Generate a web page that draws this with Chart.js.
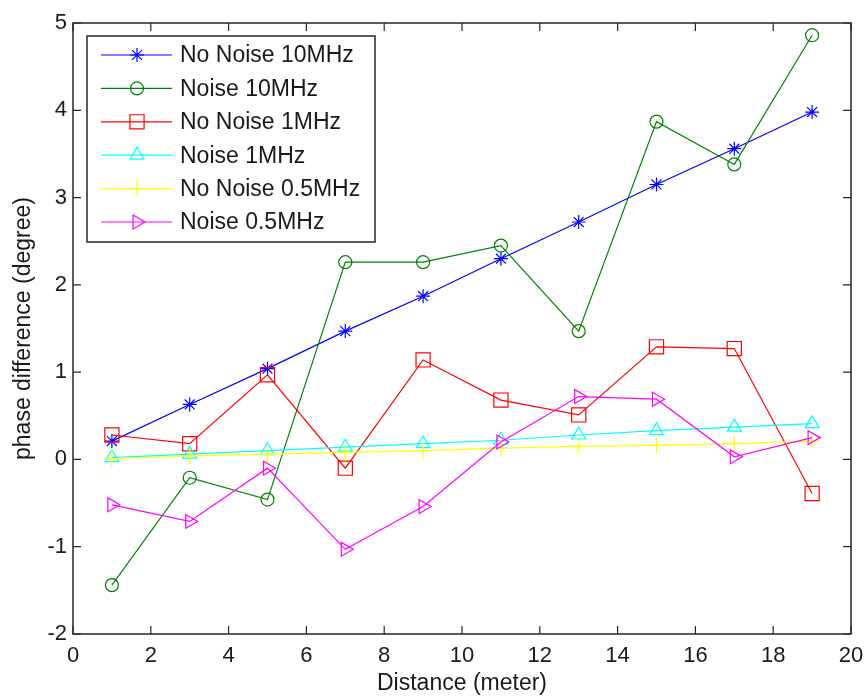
<!DOCTYPE html>
<html>
<head>
<meta charset="utf-8">
<script src="https://cdn.jsdelivr.net/npm/chart.js@4"></script>
<style>
  html, body { margin: 0; padding: 0; background: #fff; }
  #wrap { width: 864px; height: 697px; }
</style>
</head>
<body>
<div id="wrap"><canvas id="phaseChart"></canvas></div>
<script>
// Distance (meter)
const distances = [1, 3, 5, 7, 9, 11, 13, 15, 17, 19];
const xTicks = [0, 2, 4, 6, 8, 10, 12, 14, 16, 18, 20];
const yTicks = [-2, -1, 0, 1, 2, 3, 4, 5];

// phase difference (degree)
const noNoise10 = [0.21, 0.63, 1.04, 1.47, 1.87, 2.30, 2.72, 3.15, 3.56, 3.98];
const noise10 = [-1.44, -0.21, -0.46, 2.26, 2.26, 2.45, 1.47, 3.87, 3.38, 4.86];
const noNoise1 = [0.28, 0.18, 0.97, -0.10, 1.14, 0.68, 0.51, 1.29, 1.27, -0.39];
const noise1 = [0.02, 0.06, 0.10, 0.14, 0.18, 0.22, 0.28, 0.33, 0.37, 0.41];
const noNoise05 = [0.01, 0.04, 0.06, 0.08, 0.10, 0.13, 0.15, 0.16, 0.18, 0.21];
const noise05 = [-0.52, -0.71, -0.10, -1.03, -0.54, 0.20, 0.72, 0.69, 0.03, 0.25];

const seriesLabels = ['No Noise 10MHz', 'Noise 10MHz', 'No Noise 1MHz', 'Noise 1MHz', 'No Noise 0.5MHz', 'Noise 0.5MHz'];
const seriesValues = [noNoise10, noise10, noNoise1, noise1, noNoise05, noise05];
const seriesColors = ['#0000ff', '#008000', '#ff0000', '#00ffff', '#ffff00', '#ff00ff'];
const seriesMarkers = ['star', 'circle', 'rect', 'triangle', 'cross', 'triangle'];
const markerRadius = [7, 6.5, 10, 8, 8, 8];
const markerRotation = [0, 0, 0, 0, 0, 90];

const FONT = "'Liberation Sans', Arial, sans-serif";
const INK = '#1a1a1a';

const datasets = seriesLabels.map((label, i) => ({
    label: label,
    data: distances.map((d, j) => ({ x: d, y: seriesValues[i][j] })),
    borderColor: seriesColors[i],
    backgroundColor: 'transparent',
    borderWidth: 1.2,
    pointStyle: seriesMarkers[i],
    pointRadius: markerRadius[i],
    pointRotation: markerRotation[i],
    pointBorderColor: seriesColors[i],
    pointBackgroundColor: 'transparent',
    pointBorderWidth: 1.2,
    tension: 0,
    order: -i
}));

// frame box with inward tick marks on all four sides
const frameBox = {
    id: 'frameBox',
    afterDatasetsDraw(chart) {
        const { ctx, chartArea: a, scales } = chart;
        const len = 8;
        ctx.save();
        ctx.strokeStyle = '#262626';
        ctx.lineWidth = 1.5;
        ctx.strokeRect(a.left, a.top, a.right - a.left, a.bottom - a.top);
        ctx.lineWidth = 1.2;
        ctx.beginPath();
        xTicks.forEach(v => {
            const px = scales.x.getPixelForValue(v);
            ctx.moveTo(px, a.bottom); ctx.lineTo(px, a.bottom - len);
            ctx.moveTo(px, a.top); ctx.lineTo(px, a.top + len);
        });
        yTicks.forEach(v => {
            const py = scales.y.getPixelForValue(v);
            ctx.moveTo(a.left, py); ctx.lineTo(a.left + len, py);
            ctx.moveTo(a.right, py); ctx.lineTo(a.right - len, py);
        });
        ctx.stroke();
        ctx.restore();
    }
};

// MATLAB-like legend box in the upper left corner
const boxLegend = {
    id: 'boxLegend',
    afterDraw(chart) {
        const { ctx, chartArea: a } = chart;
        const left = a.left + 14, top = a.top + 13;
        const w = 288, rowH = 33.4, h = 206;
        ctx.save();
        ctx.fillStyle = '#fff';
        ctx.fillRect(left, top, w, h);
        ctx.strokeStyle = '#262626';
        ctx.lineWidth = 1.5;
        ctx.strokeRect(left, top, w, h);
        chart.data.datasets.forEach((ds, i) => {
            const y = top + 19 + i * rowH;
            ctx.strokeStyle = ds.borderColor;
            ctx.lineWidth = 1.2;
            ctx.beginPath();
            ctx.moveTo(left + 14, y);
            ctx.lineTo(left + 85, y);
            ctx.stroke();
            ctx.fillStyle = 'transparent';
            Chart.helpers.drawPoint(ctx, {
                pointStyle: ds.pointStyle,
                radius: ds.pointRadius,
                rotation: ds.pointRotation,
                borderWidth: 1.2
            }, left + 50, y);
            ctx.fillStyle = INK;
            ctx.font = '23px ' + FONT;
            ctx.textBaseline = 'middle';
            ctx.textAlign = 'left';
            ctx.fillText(ds.label, left + 93, y + 1);
        });
        ctx.restore();
    }
};

new Chart(document.getElementById('phaseChart'), {
    type: 'line',
    data: { datasets: datasets },
    options: {
        responsive: true,
        maintainAspectRatio: false,
        animation: false,
        layout: { padding: { top: 23, right: 13, left: 0, bottom: 0 } },
        plugins: {
            legend: { display: false },
            tooltip: { enabled: false }
        },
        scales: {
            x: {
                type: 'linear',
                min: 0,
                max: 20,
                afterBuildTicks: s => { s.ticks = xTicks.map(v => ({ value: v })); },
                afterFit: s => { s.height = 63; s.paddingRight = 0; s.paddingLeft = 0; },
                grid: { display: false, drawTicks: false },
                border: { display: false },
                ticks: { color: INK, font: { family: FONT, size: 22 }, padding: 9, maxRotation: 0 },
                title: {
                    display: true,
                    text: 'Distance (meter)',
                    color: INK,
                    font: { family: FONT, size: 23 },
                    padding: { top: 0, bottom: 0 }
                }
            },
            y: {
                type: 'linear',
                min: -2,
                max: 5,
                afterBuildTicks: s => { s.ticks = yTicks.map(v => ({ value: v })); },
                afterFit: s => { s.width = 73; },
                grid: { display: false, drawTicks: false },
                border: { display: false },
                ticks: { color: INK, font: { family: FONT, size: 22 }, padding: 6 },
                title: {
                    display: true,
                    text: 'phase difference (degree)',
                    color: INK,
                    font: { family: FONT, size: 23 },
                    padding: { top: 10, bottom: 0 }
                }
            }
        }
    },
    plugins: [frameBox, boxLegend]
});
</script>
</body>
</html>
